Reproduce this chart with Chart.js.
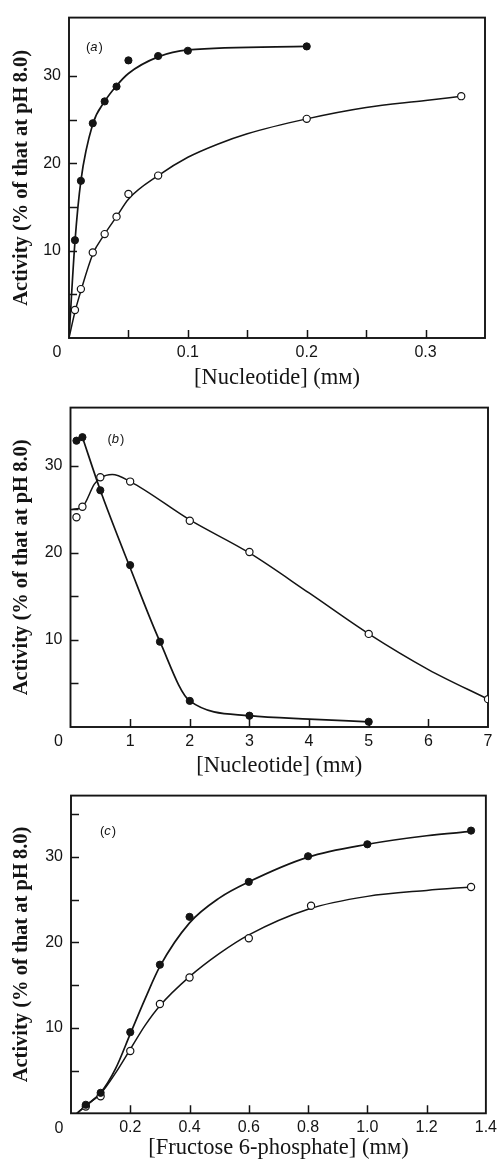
<!DOCTYPE html>
<html>
<head>
<meta charset="utf-8">
<script src="https://cdn.jsdelivr.net/npm/chart.js@4"></script>
<style>
  html, body { margin: 0; padding: 0; background: #fff; }
  #wrap { position: relative; width: 502px; height: 1162px; }
  canvas { position: absolute; left: 0; }
</style>
</head>
<body>
<div id="wrap">
  <canvas id="chart-a" width="502" height="390" style="top:0px"></canvas>
  <canvas id="chart-b" width="502" height="388" style="top:390px"></canvas>
  <canvas id="chart-c" width="502" height="384" style="top:778px"></canvas>
</div>
<script>
// (a) activity vs [nucleotide], low range
const aFilledX = [0.005, 0.01, 0.02, 0.03, 0.04, 0.05, 0.075, 0.1, 0.2];
const aFilledY = [11.2, 18.0, 24.6, 27.1, 28.8, 31.8, 32.3, 32.9, 33.4];
const aOpenX = [0.005, 0.01, 0.02, 0.03, 0.04, 0.05, 0.075, 0.2, 0.33];
const aOpenY = [3.2, 5.6, 9.8, 11.9, 13.9, 16.5, 18.6, 25.1, 27.7];
// fitted lines
const aFilledCurveX = [0, 0.005, 0.01, 0.02, 0.03, 0.04, 0.05, 0.075, 0.1, 0.2];
const aFilledCurveY = [0, 11, 18, 24.5, 27.1, 28.9, 30.3, 32.2, 33.0, 33.4];
const aOpenCurveX = [0, 0.005, 0.01, 0.02, 0.03, 0.04, 0.05, 0.075, 0.1, 0.125, 0.15, 0.2, 0.25, 0.3, 0.33];
const aOpenCurveY = [0, 3.0, 5.4, 9.6, 11.9, 13.9, 15.9, 18.6, 20.7, 22.2, 23.4, 25.1, 26.4, 27.2, 27.7];

// (b) activity vs [nucleotide], high range
const bFilledX = [0.1, 0.2, 0.5, 1, 1.5, 2, 3, 5];
const bFilledY = [32.9, 33.3, 27.2, 18.6, 9.8, 3.0, 1.3, 0.6];
const bOpenX = [0.1, 0.2, 0.5, 1, 2, 3, 5, 7];
const bOpenY = [24.1, 25.3, 28.7, 28.2, 23.7, 20.1, 10.7, 3.2];
const bFilledCurveX = [0.2, 0.5, 1, 1.5, 2, 3, 4, 5];
const bFilledCurveY = [33.3, 27.2, 18.3, 9.8, 3.0, 1.3, 0.9, 0.6];
const bOpenCurveX = [0.03, 0.2, 0.4, 0.5, 0.7, 1, 2, 3, 4, 5, 6, 7];
const bOpenCurveY = [25.0, 25.3, 27.9, 28.6, 29.0, 28.2, 23.8, 20.0, 15.4, 10.7, 6.6, 3.2];

// (c) activity vs [fructose 6-phosphate]
const cFilledX = [0.05, 0.1, 0.2, 0.3, 0.4, 0.6, 0.8, 1.0, 1.35];
const cFilledY = [1.0, 2.4, 9.5, 17.4, 23.0, 27.1, 30.1, 31.5, 33.1];
const cOpenX = [0.05, 0.1, 0.2, 0.3, 0.4, 0.6, 0.81, 1.35];
const cOpenY = [0.8, 2.0, 7.3, 12.8, 15.9, 20.5, 24.3, 26.5];
const cFilledCurveX = [0.02, 0.05, 0.1, 0.15, 0.2, 0.25, 0.3, 0.4, 0.5, 0.6, 0.8, 1.0, 1.2, 1.35];
const cFilledCurveY = [0, 0.9, 2.4, 5.2, 9.3, 13.4, 17.2, 22.3, 25.2, 27.1, 30.0, 31.5, 32.5, 33.0];
const cOpenCurveX = [0.02, 0.05, 0.1, 0.15, 0.2, 0.25, 0.3, 0.4, 0.5, 0.6, 0.8, 1.0, 1.2, 1.35];
const cOpenCurveY = [0, 0.9, 2.3, 4.7, 7.5, 10.3, 12.6, 16.0, 18.7, 20.9, 23.9, 25.4, 26.1, 26.5];

const yTitle = 'Activity (% of that at pH\u20098.0)';
const ink = '#141414';

function pts(xs, ys) {
    return xs.map((x, i) => ({ x: x, y: ys[i] }));
}

function onStep(v, step) {
    const r = v / step;
    return Math.abs(r - Math.round(r)) < 1e-6;
}

// frame, inward tick marks, the "0" at the origin and the panel tag
const framePlugin = {
    id: 'frame',
    beforeDatasetsDraw(chart, args, opts) {
        const { ctx, chartArea: a, scales: { x, y } } = chart;
        ctx.save();
        ctx.strokeStyle = ink;
        ctx.lineWidth = 1.9;
        ctx.strokeRect(a.left, a.top, a.right - a.left, a.bottom - a.top);

        ctx.lineWidth = 1.5;
        ctx.beginPath();
        x.ticks.forEach(t => {
            if (!onStep(t.value, opts.xStep) || t.value <= x.min || t.value >= x.max) return;
            const px = Math.round(x.getPixelForValue(t.value)) + 0.5;
            ctx.moveTo(px, a.bottom);
            ctx.lineTo(px, a.bottom - 8);
        });
        y.ticks.forEach(t => {
            if (!onStep(t.value, 5) || t.value <= y.min || t.value >= y.max) return;
            const py = Math.round(y.getPixelForValue(t.value)) + 0.5;
            ctx.moveTo(a.left, py);
            ctx.lineTo(a.left + 8, py);
        });
        ctx.stroke();

        ctx.fillStyle = ink;
        ctx.font = '16px "Liberation Sans", Arial, sans-serif';
        ctx.textAlign = 'center';
        ctx.textBaseline = 'middle';
        ctx.fillText('0', a.left - 12, a.bottom + 15);

        // "(a)" with an italic letter
        let tx = a.left + opts.tagDx;
        const ty = a.top + opts.tagDy;
        ctx.textAlign = 'left';
        ctx.font = '13px "Liberation Sans", Arial, sans-serif';
        ctx.fillText('(', tx, ty);
        tx += ctx.measureText('(').width;
        ctx.font = 'italic 13px "Liberation Sans", Arial, sans-serif';
        ctx.fillText(opts.tag, tx, ty);
        tx += ctx.measureText(opts.tag).width + 1;
        ctx.font = '13px "Liberation Sans", Arial, sans-serif';
        ctx.fillText(')', tx, ty);
        ctx.restore();
    }
};

function drawPanel(el, p) {
    const canvasH = el.height;
    new Chart(el, {
        type: 'scatter',
        data: {
            datasets: [
                {
                    data: pts(p.filledX, p.filledY),
                    pointRadius: 3.6,
                    pointBackgroundColor: ink,
                    pointBorderColor: ink,
                    pointBorderWidth: 1
                },
                {
                    data: pts(p.openX, p.openY),
                    pointRadius: 3.6,
                    pointBackgroundColor: '#fff',
                    pointBorderColor: ink,
                    pointBorderWidth: 1.2
                },
                {
                    data: pts(p.filledCurveX, p.filledCurveY),
                    showLine: true,
                    pointRadius: 0,
                    borderColor: ink,
                    borderWidth: 1.7,
                    cubicInterpolationMode: 'monotone'
                },
                {
                    data: pts(p.openCurveX, p.openCurveY),
                    showLine: true,
                    pointRadius: 0,
                    borderColor: ink,
                    borderWidth: 1.5,
                    cubicInterpolationMode: 'monotone'
                }
            ]
        },
        options: {
            responsive: false,
            animation: false,
            events: [],
            layout: { padding: { top: p.area.top, right: 502 - p.area.right, left: 0, bottom: 0 } },
            plugins: {
                legend: { display: false },
                tooltip: { enabled: false },
                frame: { xStep: p.xStep, tag: p.tag, tagDx: p.tagDx, tagDy: p.tagDy }
            },
            scales: {
                x: {
                    type: 'linear',
                    min: 0,
                    max: p.xMax,
                    grid: { display: false, drawTicks: false },
                    border: { display: false },
                    afterFit: s => { s.height = canvasH - p.area.bottom; },
                    ticks: {
                        stepSize: p.xStep,
                        autoSkip: false,
                        maxRotation: 0,
                        padding: 5,
                        color: ink,
                        font: { family: '"Liberation Sans", Arial, sans-serif', size: 16 },
                        callback: v => (onStep(v, p.labelStep) && v > 0) ? p.fmt(v) : ''
                    },
                    title: {
                        display: true,
                        text: p.xTitle,
                        color: ink,
                        padding: { top: 0, bottom: p.xTitlePad },
                        font: { family: '"Liberation Serif", "Times New Roman", serif', size: 22.5, lineHeight: 1.1 }
                    }
                },
                y: {
                    min: 0,
                    max: p.yMax,
                    grid: { display: false, drawTicks: false },
                    border: { display: false },
                    afterFit: s => { s.width = p.area.left; },
                    ticks: {
                        stepSize: 5,
                        padding: 8,
                        color: ink,
                        font: { family: '"Liberation Sans", Arial, sans-serif', size: 16 },
                        callback: v => (onStep(v, 10) && v > 0) ? String(v) : ''
                    },
                    title: {
                        display: true,
                        text: yTitle,
                        color: ink,
                        padding: { top: 9, bottom: 0 },
                        font: { family: '"Liberation Serif", "Times New Roman", serif', size: 20.5, weight: 'bold', lineHeight: 1.2 }
                    }
                }
            }
        },
        plugins: [framePlugin]
    });
}

drawPanel(document.getElementById('chart-a'), {
    filledX: aFilledX, filledY: aFilledY, openX: aOpenX, openY: aOpenY,
    filledCurveX: aFilledCurveX, filledCurveY: aFilledCurveY,
    openCurveX: aOpenCurveX, openCurveY: aOpenCurveY,
    area: { left: 69, right: 485, top: 13, bottom: 338 },
    xMax: 0.35, yMax: 36.7, xStep: 0.05, labelStep: 0.1,
    fmt: v => (Math.round(v * 10) / 10).toFixed(1),
    xTitle: '[Nucleotide] (m\u1D0D)', xTitlePad: 0,
    tag: 'a', tagDx: 17, tagDy: 30
});

drawPanel(document.getElementById('chart-b'), {
    filledX: bFilledX, filledY: bFilledY, openX: bOpenX, openY: bOpenY,
    filledCurveX: bFilledCurveX, filledCurveY: bFilledCurveY,
    openCurveX: bOpenCurveX, openCurveY: bOpenCurveY,
    area: { left: 70.5, right: 488, top: 12.7, bottom: 337 },
    xMax: 7, yMax: 36.7, xStep: 1, labelStep: 1,
    fmt: v => String(Math.round(v)),
    xTitle: '[Nucleotide] (m\u1D0D)', xTitlePad: 0,
    tag: 'b', tagDx: 37, tagDy: 32
});

drawPanel(document.getElementById('chart-c'), {
    filledX: cFilledX, filledY: cFilledY, openX: cOpenX, openY: cOpenY,
    filledCurveX: cFilledCurveX, filledCurveY: cFilledCurveY,
    openCurveX: cOpenCurveX, openCurveY: cOpenCurveY,
    area: { left: 71, right: 487.5, top: 11.3, bottom: 335.3 },
    xMax: 1.4, yMax: 37.2, xStep: 0.2, labelStep: 0.2,
    fmt: v => (Math.round(v * 10) / 10).toFixed(1),
    xTitle: '[Fructose 6-phosphate] (m\u1D0D)', xTitlePad: 2,
    tag: 'c', tagDx: 29, tagDy: 36
});
</script>
</body>
</html>
